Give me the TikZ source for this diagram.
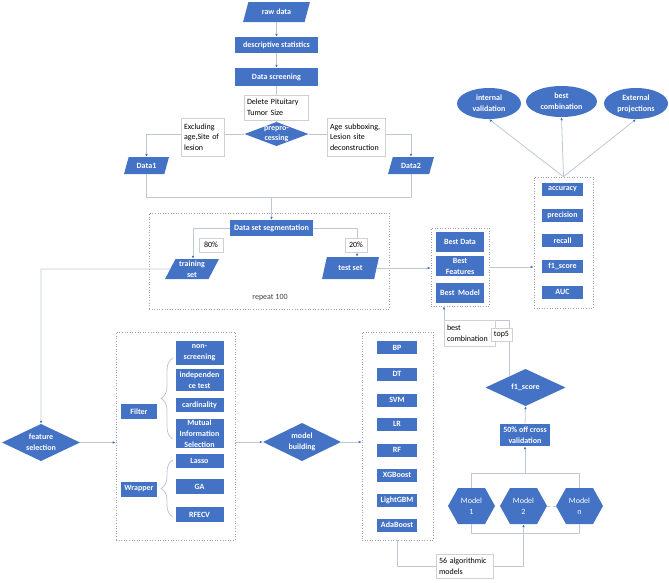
\documentclass[tikz,border=0pt]{standalone}
\usepackage{fontspec}
\setmainfont{Carlito}
\usetikzlibrary{shapes.geometric,arrows.meta,decorations.pathreplacing,calc}
\definecolor{obl}{HTML}{4472C4}
\definecolor{lnc}{RGB}{190,199,216}
\definecolor{bdr}{RGB}{208,208,208}
\definecolor{dotc}{RGB}{160,160,160}
\tikzset{
 bluebox/.style={fill=obl, text=white, font=\fontsize{8}{11}\selectfont\bfseries, inner sep=0pt, align=center},
 rbox/.style={bluebox, rectangle},
 para/.style={bluebox, trapezium, trapezium left angle=64, trapezium right angle=116, trapezium stretches=true},
 diam/.style={rectangle, inner sep=0pt, text=white, font=\fontsize{8}{11}\selectfont\bfseries, align=center,
   path picture={\fill[obl] (path picture bounding box.north) -- (path picture bounding box.east) -- (path picture bounding box.south) -- (path picture bounding box.west) -- cycle;}},
 hexa/.style={rectangle, inner sep=0pt, text=white, font=\fontsize{8}{11}\selectfont, align=center, minimum width=47pt, minimum height=36pt,
   path picture={\fill[obl] (path picture bounding box.west) -- ([xshift=10pt]path picture bounding box.north west) -- ([xshift=-10pt]path picture bounding box.north east) -- (path picture bounding box.east) -- ([xshift=-10pt]path picture bounding box.south east) -- ([xshift=10pt]path picture bounding box.south west) -- cycle;}},
 ell/.style={bluebox, ellipse, minimum width=64pt, minimum height=31pt},
 lab/.style={fill=white, draw=bdr, line width=0.6pt, align=left, inner xsep=3pt, inner ysep=1.5pt, text=black, font=\fontsize{8}{10.7}\selectfont},
 conn/.style={draw=lnc, line width=0.8pt},
 arr/.style={conn, -{Latex[length=3pt,width=2.6pt,color=obl]}},
 dotbox/.style={draw=dotc, dotted, line width=0.6pt, inner sep=0pt},
 brc/.style={conn, decorate, decoration={brace, amplitude=12pt}},
}
\begin{document}
\begin{tikzpicture}[x=1pt,y=-1pt]
\useasboundingbox (0,0) rectangle (669,582);
% top part
\node[para, minimum width=67pt, minimum height=20pt] (raw) at (276.5,12) {raw data};
\node[rbox, minimum width=83pt, minimum height=16pt] (desc) at (276.5,45) {descriptive statistics};
\node[rbox, minimum width=83pt, minimum height=18pt] (scr) at (276.5,77) {Data screening};
\node[diam, minimum width=64pt, minimum height=24pt, font=\fontsize{8}{9.6}\selectfont\bfseries] (pre) at (276.5,134) {prepro-\\cessing};
\node[para, minimum width=45pt, minimum height=17pt] (d1) at (146.5,165.5) {Data1};
\node[para, minimum width=46pt, minimum height=17pt] (d2) at (411,165.5) {Data2};
\coordinate (j1) at (271.5,197);
\node[rbox, minimum width=83pt, minimum height=16pt] (seg) at (271.5,228) {Data set segmentation};
\node[para, minimum width=54pt, minimum height=20pt] (train) at (192,269) {training\\set};
\node[para, minimum width=57pt, minimum height=22pt] (test) at (350.5,268) {test set};
\node[dotbox, minimum width=240pt, minimum height=96pt] (rep) at (269,261) {};
\node[text=black!75, font=\fontsize{8}{10}\selectfont] (reptxt) at (270,298) {repeat 100};
% best box
\node[dotbox, minimum width=58pt, minimum height=78pt] (bestbox) at (460,267) {};
\node[rbox, minimum width=48pt, minimum height=20pt] (bd) at (460,242) {Best Data};
\node[rbox, minimum width=48pt, minimum height=20pt] (bf) at (460,266) {Best\\Features};
\node[rbox, minimum width=48pt, minimum height=20pt] (bm) at (460,293) {Best~ Model};
% metrics
\node[dotbox, minimum width=59pt, minimum height=131pt] (met) at (563.5,242.5) {};
\node[rbox, minimum width=41pt, minimum height=13pt] (acc) at (562.5,189.5) {accuracy};
\node[rbox, minimum width=41pt, minimum height=13pt] (prec) at (562.5,215.5) {precision};
\node[rbox, minimum width=41pt, minimum height=13pt] (rec) at (562.5,240.5) {recall};
\node[rbox, minimum width=41pt, minimum height=13pt] (f1m) at (562.5,266) {f1\_score};
\node[rbox, minimum width=41pt, minimum height=13pt] (auc) at (562.5,292) {AUC};
% ellipses
\node[ell] (iv) at (489,103.5) {internal\\validation};
\node[ell, minimum width=71pt] (bcomb) at (561.5,101.5) {best\\combination};
\node[ell] (ep) at (636,103.5) {External\\projections};
% feature selection
\node[diam, minimum width=78pt, minimum height=37pt] (fs) at (41,442.5) {feature\\selection};
\node[dotbox, minimum width=119pt, minimum height=208pt] (fc) at (175.5,436) {};
\node[rbox, minimum width=36pt, minimum height=15pt] (filt) at (139,411.5) {Filter};
\node[rbox, minimum width=36pt, minimum height=15pt] (wrap) at (139,489) {Wrapper};
\node[rbox, minimum width=48pt, minimum height=24pt] (ns) at (199.5,353) {non-\\screening};
\node[rbox, minimum width=48pt, minimum height=22pt] (ind) at (199.5,380) {independen\\ce test};
\node[rbox, minimum width=48pt, minimum height=14pt] (card) at (199.5,405) {cardinality};
\node[rbox, minimum width=48pt, minimum height=29pt] (mis) at (199.5,433.5) {Mutual\\Information\\Selection};
\node[rbox, minimum width=48pt, minimum height=14pt] (las) at (199.5,461) {Lasso};
\node[rbox, minimum width=48pt, minimum height=15pt] (ga) at (199.5,486.5) {GA};
\node[rbox, minimum width=48pt, minimum height=15pt] (rfe) at (199.5,514.5) {RFECV};
% model building
\node[diam, minimum width=78pt, minimum height=38pt] (mb) at (302,442) {model\\building};
\node[dotbox, minimum width=71pt, minimum height=208pt] (mc) at (397.5,436) {};
\node[rbox, minimum width=40pt, minimum height=13pt] (bp) at (397,347.5) {BP};
\node[rbox, minimum width=40pt, minimum height=13pt] (dt) at (397,374) {DT};
\node[rbox, minimum width=40pt, minimum height=13pt] (svm) at (397,400) {SVM};
\node[rbox, minimum width=40pt, minimum height=13pt] (lr) at (397,424) {LR};
\node[rbox, minimum width=40pt, minimum height=13pt] (rf) at (397,450) {RF};
\node[rbox, minimum width=40pt, minimum height=13pt] (xgb) at (397,475) {XGBoost};
\node[rbox, minimum width=40pt, minimum height=13pt] (lgb) at (397,500) {LightGBM};
\node[rbox, minimum width=40pt, minimum height=13pt] (ada) at (397,525) {AdaBoost};
% right bottom
\node[hexa] (m1) at (471.5,506) {Model\\1};
\node[hexa] (m2) at (523.5,506) {Model\\2};
\node[hexa] (mn) at (579.5,506) {Model\\n};
\node[rbox, minimum width=50pt, minimum height=22pt] (cv) at (525,435) {50\% off cross\\validation};
\node[diam, minimum width=80pt, minimum height=37pt] (f1) at (525.5,387.5) {f1\_score};
\node[lab, text width=51pt, minimum height=24pt] (alg) at (464.5,566) {56 algorithmic\\models};
\coordinate (tb) at (525,473);
\coordinate (bc) at (444,320);
\coordinate (tl) at (41,269);
\coordinate (f1a) at ($(f1.north)!0.4!(f1.west)$);
% connectors
\draw[arr] (raw) -- (desc);
\draw[arr] (desc) -- (scr);
\draw[conn] (scr) -- (pre);
\draw[arr] (pre.west) -| (d1.north);
\draw[arr] (pre.east) -| (d2.north);
\draw[conn] (d1.south) |- (j1);
\draw[conn] (d2.south) |- (j1);
\draw[arr] (j1) -- (seg);
\draw[arr] (seg.west) -| ([xshift=1pt]train.north);
\draw[arr] (seg.east) -| ([xshift=6.5pt]test.north);
\draw[arr] (train.west) -- (tl) -- (fs.north);
\draw[arr] (test.east) -- (test.east -| bestbox.west);
\draw[arr] (bestbox.east) -- (bestbox.east -| met.west);
\draw[arr] (met.north) -- (iv.south);
\draw[arr] (met.north) -- (bcomb.south);
\draw[arr] (met.north) -- (ep.south);
\draw[arr] (fs.east) -- (fs.east -| fc.west);
\draw[arr] (fc.east |- mb.west) -- (mb.west);
\draw[arr] (mb.east) -- (mb.east -| mc.west);
\draw[conn] (mc.south) |- (alg.west);
\draw[arr] (alg.east) -| (m2.south);
\draw[conn] (m1.south) -- ++(0,9) -| (mn.south);
\draw[conn] (m1.north) |- (tb) -| (mn.north);
\draw[arr] (tb) -- (cv.south);
\draw[arr] (cv.north) -- (f1.south);
\draw[conn, dashed] (m2.east) -- (mn.west);
\draw[arr] (f1a) |- (bc) -- (bc |- bestbox.south);
\draw[brc] (173,439) -- (173,358);
\draw[brc] (173,517) -- (173,460);
% labels
\node[lab, text width=58pt, minimum height=25pt] (del) at (276,107.5) {Delete Pituitary\\Tumor Size};
\node[lab, text width=37pt, minimum height=38pt] (excl) at (202.5,137) {Excluding\\age,Site of\\lesion};
\node[lab, text width=52pt, minimum height=38pt] (agel) at (356,137) {Age subboxing,\\Lesion site\\deconstruction};
\node[lab, align=center, minimum width=24pt, minimum height=14pt, inner sep=0pt] (p80) at (211,245) {80\%};
\node[lab, align=center, minimum width=22pt, minimum height=14pt, inner sep=0pt] (p20) at (356,245) {20\%};
\node[lab, text width=45pt, minimum height=26pt] (bcl) at (469.5,333) {best\\combination};
\node[lab, align=center, minimum width=21pt, minimum height=13pt, inner sep=0pt] (top5) at (501.5,334.5) {top5};
\end{tikzpicture}
\end{document}
